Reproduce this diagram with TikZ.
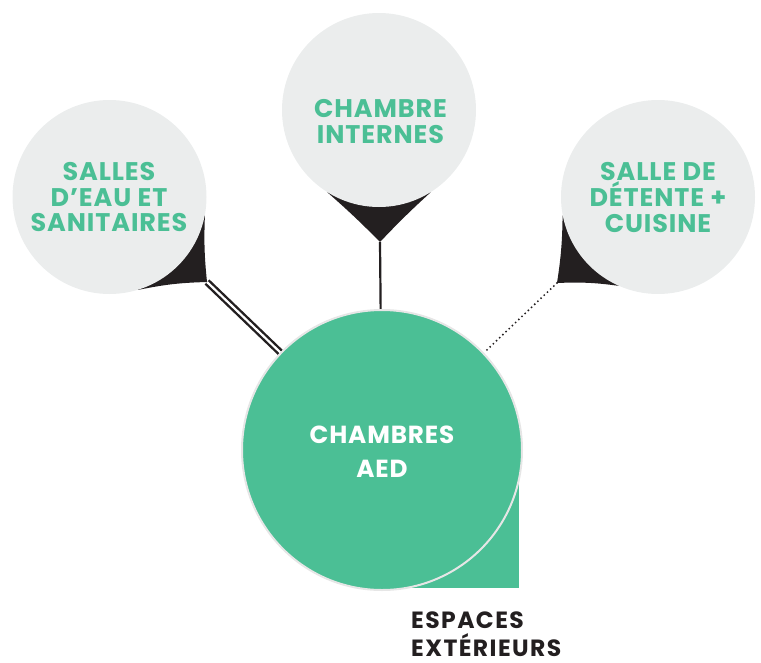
\documentclass[tikz,border=0pt]{standalone}
\usepackage{fontspec}
\setmainfont{Poppins}
\newfontfamily\popb{Poppins Bold}[LetterSpace=3.5]
\newfontfamily\popbwide{Poppins Bold}[LetterSpace=6]
\usetikzlibrary{backgrounds}
\definecolor{aedgreen}{HTML}{4BBF95}
\definecolor{bubblegray}{HTML}{EBEDED}
\definecolor{inkblack}{HTML}{231F20}
\definecolor{ringgray}{HTML}{E6E6E6}
\tikzset{
  bubble/.style={circle, fill=bubblegray, minimum size=194pt, inner sep=0pt},
  bubbletext/.style={text=aedgreen, align=center, inner sep=0pt, font=\popb\fontsize{25.5}{25.7}\selectfont},
  maintext/.style={text=white, align=center, inner sep=0pt, font=\popb\fontsize{24.7}{34}\selectfont},
  outtext/.style={text=inkblack, align=left, inner sep=0pt, font=\popbwide\fontsize{23.5}{28}\selectfont},
  pointer/.style={fill=inkblack},
  link/.style={draw=inkblack, line width=2.2pt},
  doublelink/.style={draw=inkblack, line width=2.4pt, double=white, double distance=2.2pt},
  dottedlink/.style={draw=inkblack, line width=2.1pt, line cap=round, dash pattern=on 0pt off 4.4pt}
}
\begin{document}
\begin{tikzpicture}[x=1pt,y=-1pt]
\useasboundingbox (0,0) rectangle (761,662);
% centres and tips
\coordinate (bigc) at (382,450);
\coordinate (ltip) at (207,282);
\coordinate (ttip) at (380,242);
\coordinate (rtip) at (557,283);
\coordinate (corner) at (519,588);
% green corner behind the main circle
\fill[aedgreen] (bigc) rectangle (corner);
% main circle
\node[circle, fill=aedgreen, draw=ringgray, line width=2pt, minimum size=280pt, inner sep=0pt] (big) at (bigc) {};
% bubbles
\node[bubble] (lb) at (109.5,197) {};
\node[bubble] (tb) at (379,110) {};
\node[bubble] (rb) at (658,197) {};
% pointers
\begin{scope}[on background layer]
\fill[pointer] (ltip) to[bend left=4] (lb.-11) -- (lb.center) -- (lb.-73) to[bend left=5] (ltip) -- cycle;
\fill[pointer] (ttip) to[bend left=2] (tb.-58) -- (tb.center) -- (tb.-122) to[bend left=2] (ttip) -- cycle;
\fill[pointer] (rtip) to[bend right=4] (rb.-169) -- (rb.center) -- (rb.-114) to[bend right=5] (rtip) -- cycle;
% connectors
\draw[doublelink] (ltip) -- (big);
\draw[link] (ttip) -- (big);
\draw[dottedlink] (rtip) -- (big);
\end{scope}
% texts
\node[bubbletext] (lt) at (109,197.3) {SALLES\\D’EAU ET\\SANITAIRES};
\node[bubbletext] (tt) at (380.5,121.6) {CHAMBRE\\INTERNES};
\node[bubbletext] (rt) at (658,197.5) {SALLE DE\\DÉTENTE +\\CUISINE};
\node[maintext] (bt) at (382,452) {CHAMBRES\\AED};
\node[outtext, anchor=west] (ot) at (411,634) {ESPACES\\EXTÉRIEURS};
\end{tikzpicture}
\end{document}
